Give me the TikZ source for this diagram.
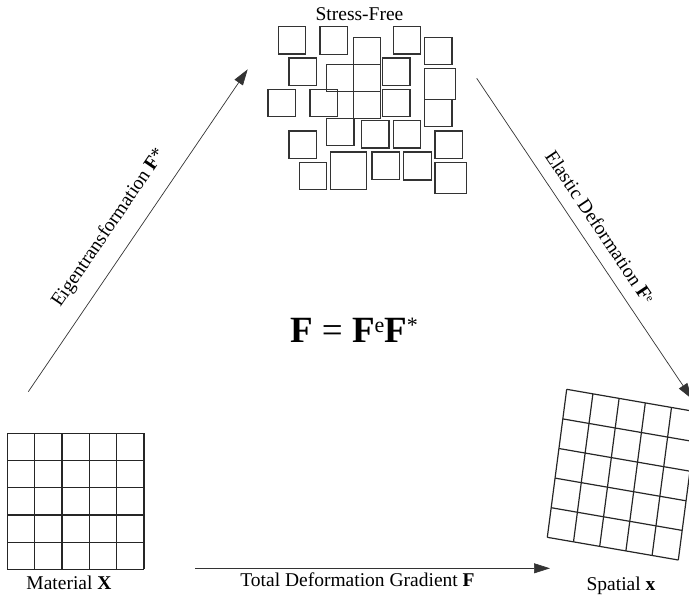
\documentclass[tikz,border=0pt]{standalone}
\usepackage{fontspec}
\setmainfont{Liberation Serif}
\usetikzlibrary{arrows.meta,calc}
\begin{document}
\begin{tikzpicture}[x=1pt,y=-1pt,
  gridline/.style={line width=1.2pt, black!85},
  tilebox/.style={line width=1.3pt, black!80},
  arr/.style={line width=0.7pt, black!80, -{Triangle[length=16pt,width=10pt]}},
  lbl/.style={font=\fontsize{19.5}{22}\selectfont, inner sep=0pt, anchor=base},
]
\useasboundingbox (0,0) rectangle (689,600);
\begin{scope}
\clip (0,0) rectangle (689,600);

% stress-free configuration: loose tiles
\foreach \x/\y/\s in {278.3/26.7/27.3, 320/26.7/27.7, 353.3/37.3/27.4, 393.3/26.7/27.4,
  424.7/37.3/27.3, 289/58/27.3, 326.7/64.7/27, 353.7/64.7/27, 382.7/58/27.3,
  268/89.3/27.3, 310/89.3/27.3, 353.7/91.7/27, 382.7/89.3/27.3, 424.7/99.3/27.3,
  326.7/118.3/27.3, 361.7/120.7/27.3, 393.3/120.7/27.3, 289/131/27.3, 435/131/27.3,
  299.3/162.3/27.3, 372/152/27.3, 403.3/152/28}
  \draw[tilebox] (\x,\y) rectangle ++(\s,\s);
\draw[tilebox] (424.7,68.7) rectangle ++(31,30.6);
\draw[tilebox] (330.3,152) rectangle ++(36,37.3);
\draw[tilebox] (435,162.3) rectangle ++(31.3,31);

% reference configuration: regular 5x5 grid
\coordinate (MTL) at (7.3,433.3);
\coordinate (MTR) at (144,433.3);
\coordinate (MBL) at (7.3,569.3);
\coordinate (MBR) at (144,569.3);
\foreach \i in {0,...,5} {
  \draw[gridline] ($(MTL)!\i/5!(MTR)$) -- ($(MBL)!\i/5!(MBR)$);
  \draw[gridline] ($(MTL)!\i/5!(MBL)$) -- ($(MTR)!\i/5!(MBR)$);
}

% current configuration: distorted grid
\coordinate (STL) at (566.7,389.3);
\coordinate (STR) at (697.7,412);
\coordinate (SBL) at (547.3,537.3);
\coordinate (SBR) at (678.3,560);
\foreach \i in {0,...,5} {
  \draw[gridline] ($(STL)!\i/5!(STR)$) -- ($(SBL)!\i/5!(SBR)$);
  \draw[gridline] ($(STL)!\i/5!(SBL)$) -- ($(STR)!\i/5!(SBR)$);
}

% mappings
\coordinate (eigS) at (28.3,391.7);
\coordinate (eigE) at (247.7,69.3);
\coordinate (elaS) at (476.7,78.3);
\coordinate (elaE) at (692,399);
\coordinate (totS) at (195,568.3);
\coordinate (totE) at (550,568.3);
\draw[arr] (eigS) -- (eigE);
\draw[arr] (elaS) -- (elaE);
\draw[arr] (totS) -- (totE);

% labels
\node[lbl] (sf) at (359.5,20.7) {Stress-Free};
\node[lbl] (mat) at (69,589.3) {Material \textbf{X}};
\node[lbl] (spa) at (621,590) {Spatial \textbf{x}};
\node[lbl] (tot) at (357.5,586.7) {Total Deformation Gradient \textbf{F}};
\node[lbl, anchor=center, rotate=55.8] (eig) at (109,228) {Eigentransformation \textbf{F}*};
\node[lbl, anchor=center, rotate=-56.1] (ela) at (600,227)
  {Elastic Deformation \textbf{F}\raisebox{5pt}{\fontsize{11}{11}\selectfont e}};
\node[anchor=base, inner sep=0pt, font=\fontsize{37}{40}\selectfont] (eq) at (354,342)
  {\textbf{F} = \textbf{F}\raisebox{10pt}{\fontsize{22}{22}\selectfont e}\textbf{F}\raisebox{10pt}{\fontsize{22}{22}\selectfont *}};
\end{scope}
\end{tikzpicture}
\end{document}
